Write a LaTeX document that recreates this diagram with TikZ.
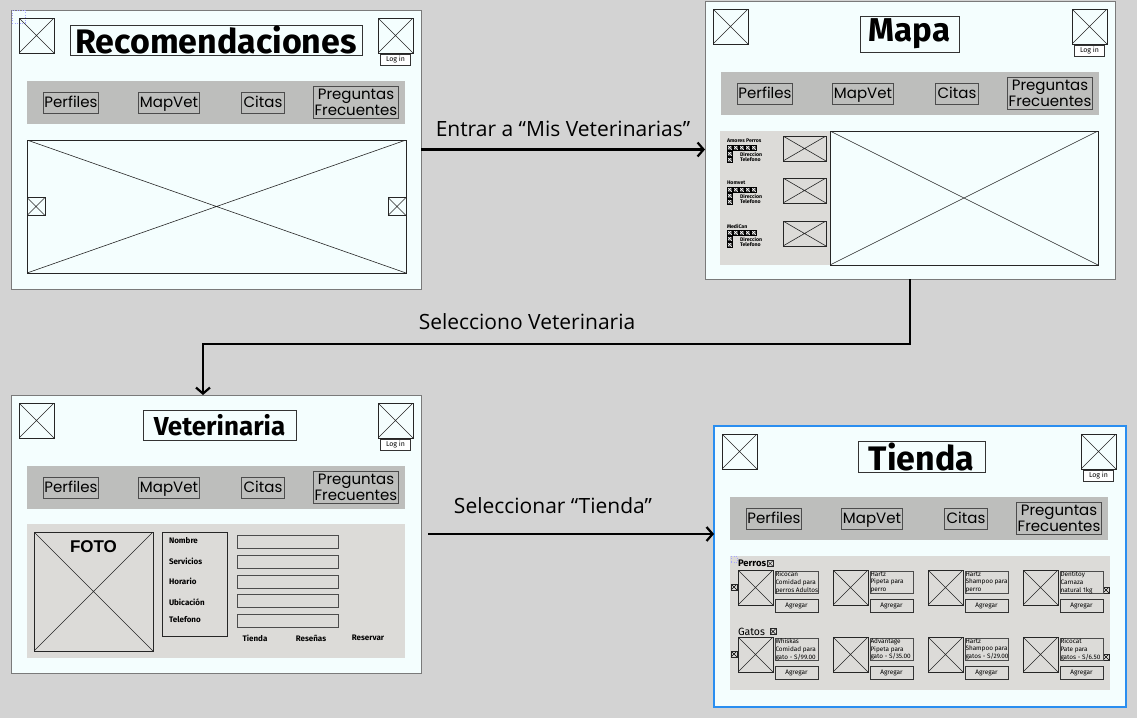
\documentclass[tikz,border=0pt]{standalone}
\usepackage{fontspec}
\setmainfont{Fira Sans}
\newfontfamily\navfont{Poppins}
\newfontfamily\lblfont{Open Sans}
\newfontfamily\fotofont{Liberation Sans}
\usepackage{xcolor}
\usepackage{tikz}
\usetikzlibrary{arrows.meta, positioning}

\definecolor{bgcol}{HTML}{D3D3D3}
\definecolor{pagecol}{HTML}{F4FEFE}
\definecolor{navcol}{HTML}{BDBEBC}
\definecolor{boxcol}{HTML}{DCDBD8}
\definecolor{edgecol}{HTML}{7A7A7A}
\definecolor{selcol}{HTML}{2A8EF0}

\begin{document}
\begin{tikzpicture}[x=1pt, y=-1pt,
    every node/.style={inner sep=0pt, outer sep=0pt},
    cross/.style={path picture={\draw[#1]
        (path picture bounding box.north west) -- (path picture bounding box.south east)
        (path picture bounding box.south west) -- (path picture bounding box.north east);}},
    cross/.default={black!85, line width=0.6pt},
    page/.style={draw=edgecol, line width=1pt, fill=pagecol, anchor=north west},
    xbox/.style={draw=black!85, line width=0.8pt, anchor=north west, cross},
    mini/.style={draw=black, fill=black!70, line width=0.3pt, minimum size=5,
                 anchor=north west, cross={white, line width=0.4pt}},
    tinyx/.style={xbox, line width=0.5pt, minimum size=6, cross={black, line width=0.4pt}},
    titlebox/.style={draw=black!80, line width=1pt, font=\bfseries},
    login/.style={draw=black!80, line width=0.6pt, fill=white, minimum width=30,
                  minimum height=11, font=\fontsize{7}{7}\selectfont},
    navbar/.style={fill=navcol, anchor=north west, minimum width=378, minimum height=43},
    navitem/.style={draw=black!70, line width=0.9pt, minimum height=21, align=center,
                    font=\navfont\fontsize{15}{14}\selectfont},
    navone/.style={navitem, text height=12, text depth=2},
    listbox/.style={fill=boxcol, anchor=north west},
    field/.style={draw=black!70, line width=0.9pt, anchor=north west, minimum width=101,
                  minimum height=13},
    vlbl/.style={anchor=west, font=\bfseries\fontsize{8}{8}\selectfont},
    tlbl/.style={font=\bfseries\fontsize{5.2}{5.2}\selectfont, anchor=west},
    prod/.style={draw=black!70, line width=0.8pt, anchor=north west, minimum width=43,
                 minimum height=22},
    prodtxt/.style={anchor=north west, align=left, font=\fontsize{6.4}{7.6}\selectfont},
    addbtn/.style={draw=black!80, line width=0.8pt, anchor=north west, minimum width=43,
                   minimum height=13, font=\fontsize{6.5}{6.5}\selectfont},
    lbl/.style={font=\lblfont\fontsize{21}{22}\selectfont},
    arr/.style={line width=2.2pt, -{Straight Barb[length=6pt, width=14pt]}}
  ]
  \fill[bgcol] (0,0) rectangle (1137,718);
  \useasboundingbox (0,0) rectangle (1137,718);

  \foreach \p/\px/\py/\pw/\ph in {rec/11/10/410/279, map/705/1/410/278,
                                  vet/11/395/410/278, tie/714/426/412/281} {
    \node[page, minimum width=\pw, minimum height=\ph] (\p) at (\px,\py) {};
    \node[xbox, minimum size=35] (\p-lic) at ([shift={(8,8)}]\p.north west) {};
    \node[xbox, minimum size=35] (\p-ric) at ([shift={(367,8)}]\p.north west) {};
    \node[login, below=1pt of \p-ric] (\p-log) {Log in};
    \node[navbar] (\p-nav) at ([shift={(16,71)}]\p.north west) {};
    \node[navone, minimum width=55] (\p-per) at ([xshift=44]\p-nav.west) {Perfiles};
    \node[navone, minimum width=61] (\p-mv) at ([xshift=142]\p-nav.west) {MapVet};
    \node[navone, minimum width=43] (\p-cit) at ([xshift=236]\p-nav.west) {Citas};
    \node[navitem, minimum width=85, minimum height=32] (\p-faq)
      at ([xshift=329]\p-nav.west) {Preguntas\\Frecuentes};
  }
  \draw[selcol, line width=2pt] (tie.north west) rectangle (tie.south east);

  \node[titlebox, minimum width=292, minimum height=30, font=\bfseries\fontsize{34}{34}\selectfont]
    (rec-tit) at ([shift={(205,30)}]rec.north west) {Recomendaciones};
  \node[titlebox, minimum width=99, minimum height=36, font=\bfseries\fontsize{33}{33}\selectfont]
    (map-tit) at ([shift={(204.5,33)}]map.north west) {Mapa};
  \node[titlebox, minimum width=153, minimum height=30, font=\bfseries\fontsize{26}{26}\selectfont]
    (vet-tit) at ([shift={(208.5,30)}]vet.north west) {Veterinaria};
  \node[titlebox, minimum width=127, minimum height=31, font=\bfseries\fontsize{34}{34}\selectfont]
    (tie-tit) at ([shift={(207.5,30.5)}]tie.north west) {Tienda};

  \node[draw=blue!35, dotted, line width=0.6pt, minimum size=13, anchor=north west]
    (rec-sel) at (12,10) {};

  \node[xbox, minimum width=379, minimum height=133] (rec-img) at ([shift={(16,130)}]rec.north west) {};
  \node[xbox, minimum size=18, anchor=west] (rec-prev) at (rec-img.west) {};
  \node[xbox, minimum size=18, anchor=east] (rec-next) at (rec-img.east) {};

  \node[listbox, minimum width=110, minimum height=134] (map-list) at ([shift={(15,130)}]map.north west) {};
  \node[xbox, minimum width=268, minimum height=134] (map-img) at (map-list.north east) {};
  \foreach \g/\vn/\dy in {1/Amores Perros/0, 2/Homvet/42, 3/MediCan/85} {
    \node[xbox, fill=boxcol, minimum width=43, minimum height=25] (map-th\g)
      at ([shift={(63,5+\dy)}]map-list.north west) {};
    \node[tlbl] (map-n\g) at ([shift={(7,10+\dy)}]map-list.north west) {\vn};
    \foreach \i in {0,...,4}
      \node[mini] (map-s\g\i) at ([shift={(7+6*\i,14+\dy)}]map-list.north west) {};
    \node[mini] (map-d\g) at ([shift={(7,20+\dy)}]map-list.north west) {};
    \node[mini] (map-t\g) at ([shift={(7,26+\dy)}]map-list.north west) {};
    \node[tlbl] (map-dt\g) at ([shift={(20,23+\dy)}]map-list.north west) {Direccion};
    \node[tlbl] (map-tt\g) at ([shift={(20,29+\dy)}]map-list.north west) {Telefono};
  }

  \node[listbox, minimum width=378, minimum height=134] (vet-body) at ([shift={(16,129)}]vet.north west) {};
  \node[xbox, fill=boxcol, minimum size=119] (vet-foto) at ([shift={(7,8)}]vet-body.north west) {};
  \node[font=\fotofont\bfseries\fontsize{17}{17}\selectfont] (vet-fototxt)
    at ([yshift=-15]vet-foto.north) {FOTO};
  \node[draw=black!85, line width=0.8pt, anchor=north west, minimum width=65, minimum height=104]
    (vet-lbls) at ([shift={(135,8)}]vet-body.north west) {};
  \foreach \t/\dy in {Nombre/9, Servicios/29, Horario/49, Ubicación/70, Telefono/88}
    \node[vlbl] (vet-l\dy) at ([shift={(7,\dy)}]vet-lbls.north west) {\t};
  \foreach \i/\dy in {1/11, 2/31, 3/51, 4/70, 5/90}
    \node[field] (vet-f\i) at ([shift={(210,\dy)}]vet-body.north west) {};
  \foreach \t/\dx in {Tienda/228, Reseñas/284, Reservar/341}
    \node[font=\bfseries\fontsize{8}{8}\selectfont] (vet-k\dx)
      at ([shift={(\dx,114)}]vet-body.north west) {\t};

  \node[listbox, minimum width=380, minimum height=134] (tie-body) at ([shift={(16,130)}]tie.north west) {};
  \node[draw=blue!35, dotted, line width=0.5pt, minimum size=6, anchor=north west]
    (tie-sel) at ([shift={(1,0)}]tie-body.north west) {};
  \node[anchor=west, font=\bfseries\fontsize{9.5}{9.5}\selectfont] (tie-perros)
    at ([shift={(8,7.5)}]tie-body.north west) {Perros};
  \node[tinyx, anchor=west, right=1pt of tie-perros] (tie-px) {};
  \node[anchor=west, font=\fontsize{10.5}{10.5}\selectfont] (tie-gatos)
    at ([shift={(8,75.5)}]tie-body.north west) {Gatos};
  \node[tinyx, anchor=west, right=5pt of tie-gatos] (tie-gx) {};
  \foreach \r/\dy in {0/0, 1/67} {
    \node[tinyx] (tie-lx\r) at ([shift={(1,28+\dy)}]tie-body.north west) {};
    \node[tinyx] (tie-rx\r) at ([shift={(373,31+\dy)}]tie-body.north west) {};
  }
  \foreach \c/\r/\txt in {0/0/{Ricocan\\Comidad para\\perros Adultos},
                          1/0/{Hartz\\Pipeta para\\perro},
                          2/0/{Hartz\\Shampoo para\\perro},
                          3/0/{Dentitoy\\Carnaza\\natural 1kg},
                          0/1/{Whiskas\\Comidad para\\gato - S/99.00},
                          1/1/{Advantage\\Pipeta para\\gato - S/35.00},
                          2/1/{Hartz\\Shampoo para\\gatos - S/29.00},
                          3/1/{Ricocat\\Pate para\\gatos - S/6.50}} {
    \node[xbox, minimum size=35] (tie-im\c\r) at ([shift={(8+95*\c,14+67*\r)}]tie-body.north west) {};
    \node[prod] (tie-pb\c\r) at ([shift={(45+95*\c,15+67*\r)}]tie-body.north west) {};
    \node[prodtxt] (tie-tx\c\r) at ([shift={(0.5,0.8)}]tie-pb\c\r.north west) {\txt};
    \node[addbtn] (tie-ad\c\r) at ([shift={(45+95*\c,43+67*\r)}]tie-body.north west) {Agregar};
  }

  \draw[arr] (rec.east) -- (rec.east -| map.west)
    node[lbl, midway, above=13pt] (l-entrar) {Entrar a “Mis Veterinarias”};
  \draw[arr] (map.south) -- ++(0,65) -| ([xshift=-13]vet.north);
  \node[lbl] (l-selvet) at (527,322) {Selecciono Veterinaria};
  \draw[arr] ([xshift=7]vet.east) -- (vet.east -| tie.west);
  \node[lbl] (l-seltie) at (553,506) {Seleccionar “Tienda”};
\end{tikzpicture}
\end{document}
